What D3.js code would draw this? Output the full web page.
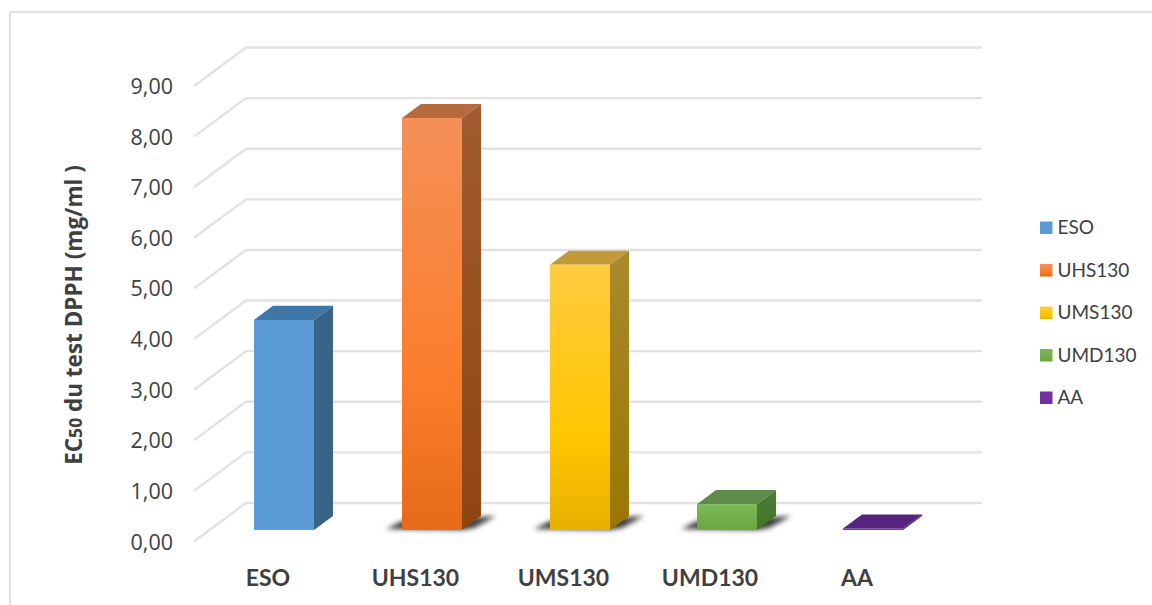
<!DOCTYPE html>
<html>
<head>
<meta charset="utf-8">
<script src="https://cdn.jsdelivr.net/npm/d3@7/dist/d3.min.js"></script>
<style>
html, body { margin: 0; padding: 0; background: #fff; }
svg { display: block; font-family: Lato, "Open Sans", sans-serif; }
</style>
</head>
<body>
<svg id="chart" width="1152" height="605"></svg>
<script>
// EC50 values of the DPPH test, one 3D column per sample
const categories = ["ESO", "UHS130", "UMS130", "UMD130", "AA"];
const values = [4.15, 8.14, 5.24, 0.51, 0.03];
const yTicks = [0, 1, 2, 3, 4, 5, 6, 7, 8, 9];
const faceTop = ["#5b9bd5", "#f59058", "#ffcb40", "#7cb858", "#7030a0"];
const faceMid = ["#5b9bd5", "#fb7d2a", "#ffc600", "#70ad47", "#7030a0"];
const faceBottom = ["#5b9bd5", "#e56b17", "#e8b000", "#69a83e", "#7030a0"];
const capColors = ["#3f76a8", "#b76a3e", "#c29a38", "#5d8c48", "#55247c"];
const sideTop = ["#39648a", "#a05c30", "#a98a2c", "#4c7c34", "#4a1f6c"];
const sideBottom = ["#39648a", "#8f4510", "#9a7600", "#43752a", "#4a1f6c"];
const hasShadow = [false, true, true, true, false];
const axisTitle = "du test DPPH (mg/ml )";

const svg = d3.select("#chart");
const defs = svg.append("defs");

// Value scale along the front edge of the floor
const y = d3.scaleLinear().domain([0, 9]).range([541.5, 86]);
// Depth runs from the front of the floor (0) to the back wall (1)
const depthX = d3.scaleLinear().domain([0, 1]).range([0, 52]);
const depthY = d3.scaleLinear().domain([0, 1]).range([0, -38.5]);
const x = d3.scaleOrdinal().domain(categories).range([238.4, 386.4, 534.4, 681.4, 827.4]);
const labelX = d3.scaleOrdinal().domain(categories).range([268, 415.5, 563.5, 710, 857]);
const frontLeft = 194, gridRight = 982;
const barFront = 0.3, barBack = 0.665, barWidth = 60;

const fmt = v => d3.format(".2f")(v).replace(".", ",");
const px = (cx, d) => cx + depthX(d);
const py = (v, d) => y(v) + depthY(d);
const poly = pts => pts.map(p => p.join(",")).join(" ");

// Chart frame
svg.append("path")
  .attr("d", "M10,605V12H1152")
  .attr("fill", "none").attr("stroke", "#d9d9d9").attr("stroke-width", 1.6);

// Gridlines: a slanted run on the side wall and a straight run on the back wall
const grid = svg.append("g")
  .attr("fill", "none").attr("stroke", "#e2e2e2").attr("stroke-width", 2.4);
grid.selectAll("path").data(yTicks).join("path")
  .attr("d", v => `M${frontLeft},${y(v)}L${frontLeft + depthX(1)},${py(v, 1)}H${gridRight}`);

// Vertical gradients for the column faces and legend swatches
const gradient = (id, stops) => {
  const g = defs.append("linearGradient").attr("id", id)
    .attr("x1", 0).attr("y1", 0).attr("x2", 0).attr("y2", 1);
  stops.forEach(([o, c]) => g.append("stop").attr("offset", o).attr("stop-color", c));
};
categories.forEach((c, i) => {
  gradient("face" + i, [["0%", faceTop[i]], ["65%", faceMid[i]], ["100%", faceBottom[i]]]);
  gradient("side" + i, [["0%", sideTop[i]], ["100%", sideBottom[i]]]);
});
const soft = defs.append("filter").attr("id", "soft")
  .attr("x", "-30%").attr("y", "-60%").attr("width", "160%").attr("height", "220%");
soft.append("feGaussianBlur").attr("stdDeviation", 2.4);

// Contact shadows on the floor around the column bases
const shadows = svg.append("g").attr("filter", "url(#soft)");
categories.forEach((c, i) => {
  if (!hasShadow[i]) return;
  const l = px(x(c), barFront), r = l + barWidth, base = py(0, barFront);
  shadows.append("polygon")
    .attr("fill", "#3c3c3c")
    .attr("points", poly([
      [l - 16, base - 1], [l, base - 9], [r + 18, base - 13], [r + 34, base - 14], [r + 12, base - 2], [r, base]
    ]));
});

// Columns: top, side and front faces
const bars = svg.append("g").selectAll("g")
  .data(categories.map((c, i) => ({ c, v: values[i], i })))
  .join("g");

bars.append("polygon")
  .attr("fill", d => capColors[d.i])
  .attr("points", d => {
    const l = px(x(d.c), barFront), r = l + barWidth;
    const bl = px(x(d.c), barBack), br = bl + barWidth;
    return poly([[l, py(d.v, barFront)], [bl, py(d.v, barBack)], [br, py(d.v, barBack)], [r, py(d.v, barFront)]]);
  });

bars.append("polygon")
  .attr("fill", d => `url(#side${d.i})`)
  .attr("points", d => {
    const r = px(x(d.c), barFront) + barWidth;
    const br = px(x(d.c), barBack) + barWidth;
    return poly([[r, py(d.v, barFront)], [br, py(d.v, barBack)], [br, py(0, barBack)], [r, py(0, barFront)]]);
  });

bars.append("rect")
  .attr("fill", d => `url(#face${d.i})`)
  .attr("x", d => px(x(d.c), barFront))
  .attr("y", d => py(d.v, barFront))
  .attr("width", barWidth)
  .attr("height", d => y(0) - y(d.v));

// Value axis labels
svg.append("g").selectAll("text").data(yTicks).join("text")
  .attr("x", 173).attr("y", v => y(v) + 8)
  .attr("text-anchor", "end")
  .attr("font-family", "'Open Sans', sans-serif")
  .attr("font-size", 21.5).attr("fill", "#404040")
  .text(fmt);

// Category labels
svg.append("g").selectAll("text").data(categories).join("text")
  .attr("x", c => labelX(c)).attr("y", 586)
  .attr("text-anchor", "middle")
  .attr("font-size", 23).attr("font-weight", 700).attr("fill", "#404040")
  .text(c => c);

// Axis title with subscript-sized 50
const title = svg.append("text")
  .attr("transform", "translate(82,315) rotate(-90)")
  .attr("text-anchor", "middle")
  .attr("font-family", "'Open Sans', sans-serif")
  .attr("font-size", 22.5).attr("font-weight", 700).attr("fill", "#404040");
title.append("tspan").text("EC");
title.append("tspan").attr("font-size", 17.5).text("50");
title.append("tspan").text(" " + axisTitle);

// Legend
const legendY = d3.scaleLinear().domain([0, 4]).range([221.5, 391.5]);
const legend = svg.append("g").selectAll("g").data(categories).join("g")
  .attr("transform", (c, i) => `translate(1040,${legendY(i)})`);
legend.append("rect")
  .attr("width", 12.5).attr("height", 12.5)
  .attr("fill", (c, i) => `url(#face${i})`);
legend.append("text")
  .attr("x", 17.5).attr("y", 12.5)
  .attr("font-size", 19).attr("fill", "#404040")
  .text(c => c);
</script>
</body>
</html>
